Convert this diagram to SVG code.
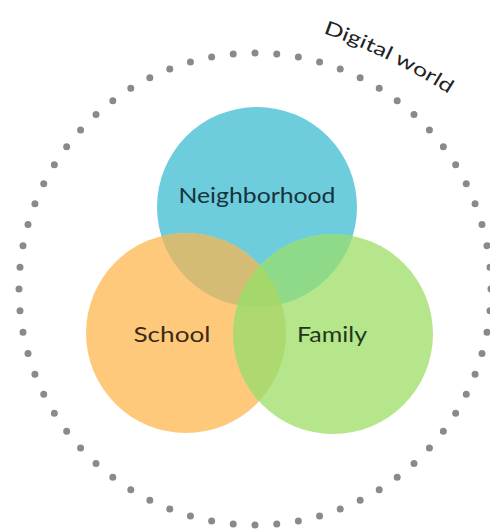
<svg xmlns="http://www.w3.org/2000/svg" width="490" height="529" viewBox="0 0 490 529">
<style>
.dots{fill:none;stroke:#8a8a8a;stroke-width:7;stroke-linecap:round;stroke-dasharray:0 1}
.lbl{font-family:Lato,"Open Sans","Liberation Sans",sans-serif;font-size:21px;text-anchor:middle}
</style>
<defs>
<clipPath id="cB"><circle cx="257" cy="207" r="100"/></clipPath>
<clipPath id="cO"><circle cx="186" cy="333" r="100"/></clipPath>
<path id="arc" d="M 323 33 A 600 600 0 0 1 452 96"/>
</defs>
<rect width="490" height="529" fill="#ffffff"/>
<g id="digital-world">
<circle class="dots" cx="255" cy="289" r="236" pathLength="68"/>
<text font-family="Lato,'Open Sans','Liberation Sans',sans-serif" font-size="19" fill="#222"><textPath href="#arc" textLength="140" lengthAdjust="spacingAndGlyphs">Digital world</textPath></text>
</g>
<g id="neighborhood">
<circle cx="257" cy="207" r="100" fill="#6dcddc"/>
</g>
<g id="school">
<circle cx="186" cy="333" r="100" fill="#ffc97c"/>
<circle cx="186" cy="333" r="100" fill="#d4bc74" clip-path="url(#cB)"/>
</g>
<g id="family">
<circle cx="333" cy="334" r="100" fill="#b5e68c"/>
<circle cx="333" cy="334" r="100" fill="#8eda88" clip-path="url(#cB)"/>
<g clip-path="url(#cO)">
<circle cx="333" cy="334" r="100" fill="#aed870"/>
<circle cx="333" cy="334" r="100" fill="#a5d86a" clip-path="url(#cB)"/>
</g>
</g>
<g id="labels">
<text class="lbl" x="257" y="203" fill="#16333a" textLength="157" lengthAdjust="spacingAndGlyphs">Neighborhood</text>
<text class="lbl" x="172" y="342" fill="#3a2a18" textLength="77" lengthAdjust="spacingAndGlyphs">School</text>
<text class="lbl" x="332" y="342" fill="#1e3818" textLength="70" lengthAdjust="spacingAndGlyphs">Family</text>
</g>
</svg>
